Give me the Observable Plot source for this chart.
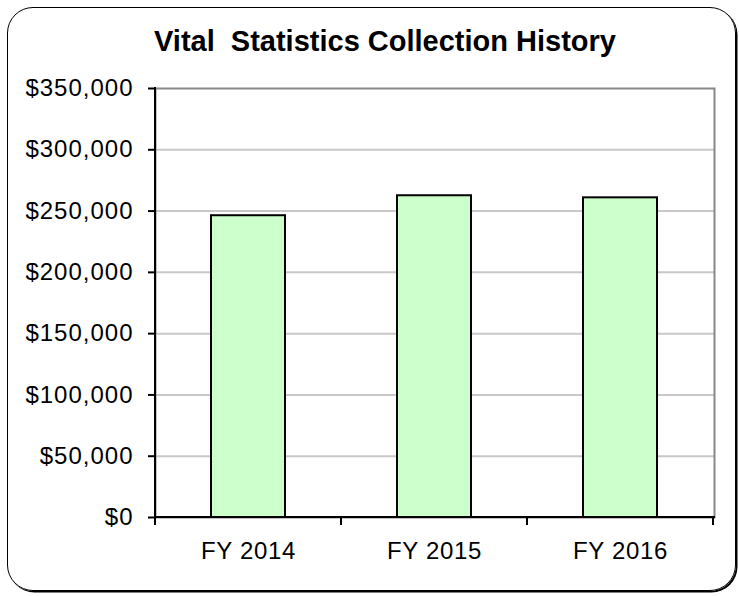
<!DOCTYPE html>
<html>
<head>
<meta charset="utf-8">
<script src="https://cdn.jsdelivr.net/npm/d3@7"></script>
<script src="https://cdn.jsdelivr.net/npm/@observablehq/plot@0.6"></script>
<style>
  html, body { margin: 0; padding: 0; background: #fff; }
  #wrap { position: relative; width: 739px; height: 596px; overflow: hidden; font-family: "Liberation Sans", Arial, sans-serif; }
  #card { position: absolute; left: 7px; top: 7px; width: 727px; height: 582px; border: 1.5px solid #000; border-radius: 26px; box-shadow: 1.5px 1.5px 0 #000; box-sizing: content-box; }
  #title { position: absolute; left: 20px; width: 730px; top: 27px; text-align: center; font-weight: bold; font-size: 29px; line-height: 29px; color: #000; white-space: pre; }
  #chart { position: absolute; left: 0; top: 0; }
  #chart g[aria-label="y-axis tick label"] text { letter-spacing: 1px; }
  #chart g[aria-label="x-axis tick label"] text { letter-spacing: 0.7px; }
</style>
</head>
<body>
<div id="wrap">
  <div id="card"></div>
  <div id="chart"></div>
  <div id="title">Vital  Statistics Collection History</div>
</div>
<script>
const categories = ["FY 2014", "FY 2015", "FY 2016"];
const collections = [246200, 262500, 260800];
const yTicks = [0, 50000, 100000, 150000, 200000, 250000, 300000, 350000];
const yTickLabels = ["$0", "$50,000", "$100,000", "$150,000", "$200,000", "$250,000", "$300,000", "$350,000"];

function axisLinesAndBoundaryTicks(index, scales, values, dimensions) {
  const sx = scales.x;
  const step = typeof sx.step === "function" ? sx.step() : scales.scales.x.step;
  const bw = typeof sx.bandwidth === "function" ? sx.bandwidth() : scales.scales.x.bandwidth;
  const {width, height, marginLeft, marginRight, marginTop, marginBottom} = dimensions;
  const bottom = height - marginBottom;
  const g = d3.create("svg:g").attr("stroke", "#000").attr("stroke-width", 2);
  const xs = categories.map(c => sx(c) + bw / 2 - step / 2);
  xs.push(sx(categories[categories.length - 1]) + bw / 2 + step / 2);
  for (const x of xs) {
    g.append("line").attr("x1", x).attr("x2", x).attr("y1", bottom).attr("y2", bottom + 8);
  }
  g.append("line").attr("x1", marginLeft).attr("x2", marginLeft).attr("y1", marginTop - 1).attr("y2", bottom + 1);
  g.append("line").attr("x1", marginLeft - 1).attr("x2", width - marginRight + 1).attr("y1", bottom).attr("y2", bottom);
  return g.node();
}

const chart = Plot.plot({
  width: 739,
  height: 596,
  marginLeft: 155,
  marginRight: 25,
  marginTop: 88,
  marginBottom: 79,
  style: { fontSize: "24px", fontFamily: "'Liberation Sans', Arial, sans-serif", color: "#000", background: "transparent", overflow: "visible" },
  x: { type: "band", domain: categories, paddingInner: 0.6, paddingOuter: 0.3, label: null },
  y: { domain: [0, 350000], label: null },
  marks: [
    Plot.gridY(yTicks.filter(v => v > 0 && v < 350000), { stroke: "#c8c8c8", strokeOpacity: 1, strokeWidth: 2 }),
    Plot.frame({ stroke: "#888", strokeWidth: 2 }),
    Plot.barY(collections, { x: categories, y: collections, fill: "#ccffcc", stroke: "#000", strokeWidth: 2 }),
    Plot.axisY({ ticks: yTicks, tickFormat: (d, i) => yTickLabels[yTicks.indexOf(d)], tickSize: 7, tickPadding: 15, strokeWidth: 2, stroke: "#000", label: null }),
    Plot.axisX({ tickSize: 0, tickPadding: 24, label: null }),
    axisLinesAndBoundaryTicks
  ]
});
document.getElementById("chart").appendChild(chart);
</script>
</body>
</html>
